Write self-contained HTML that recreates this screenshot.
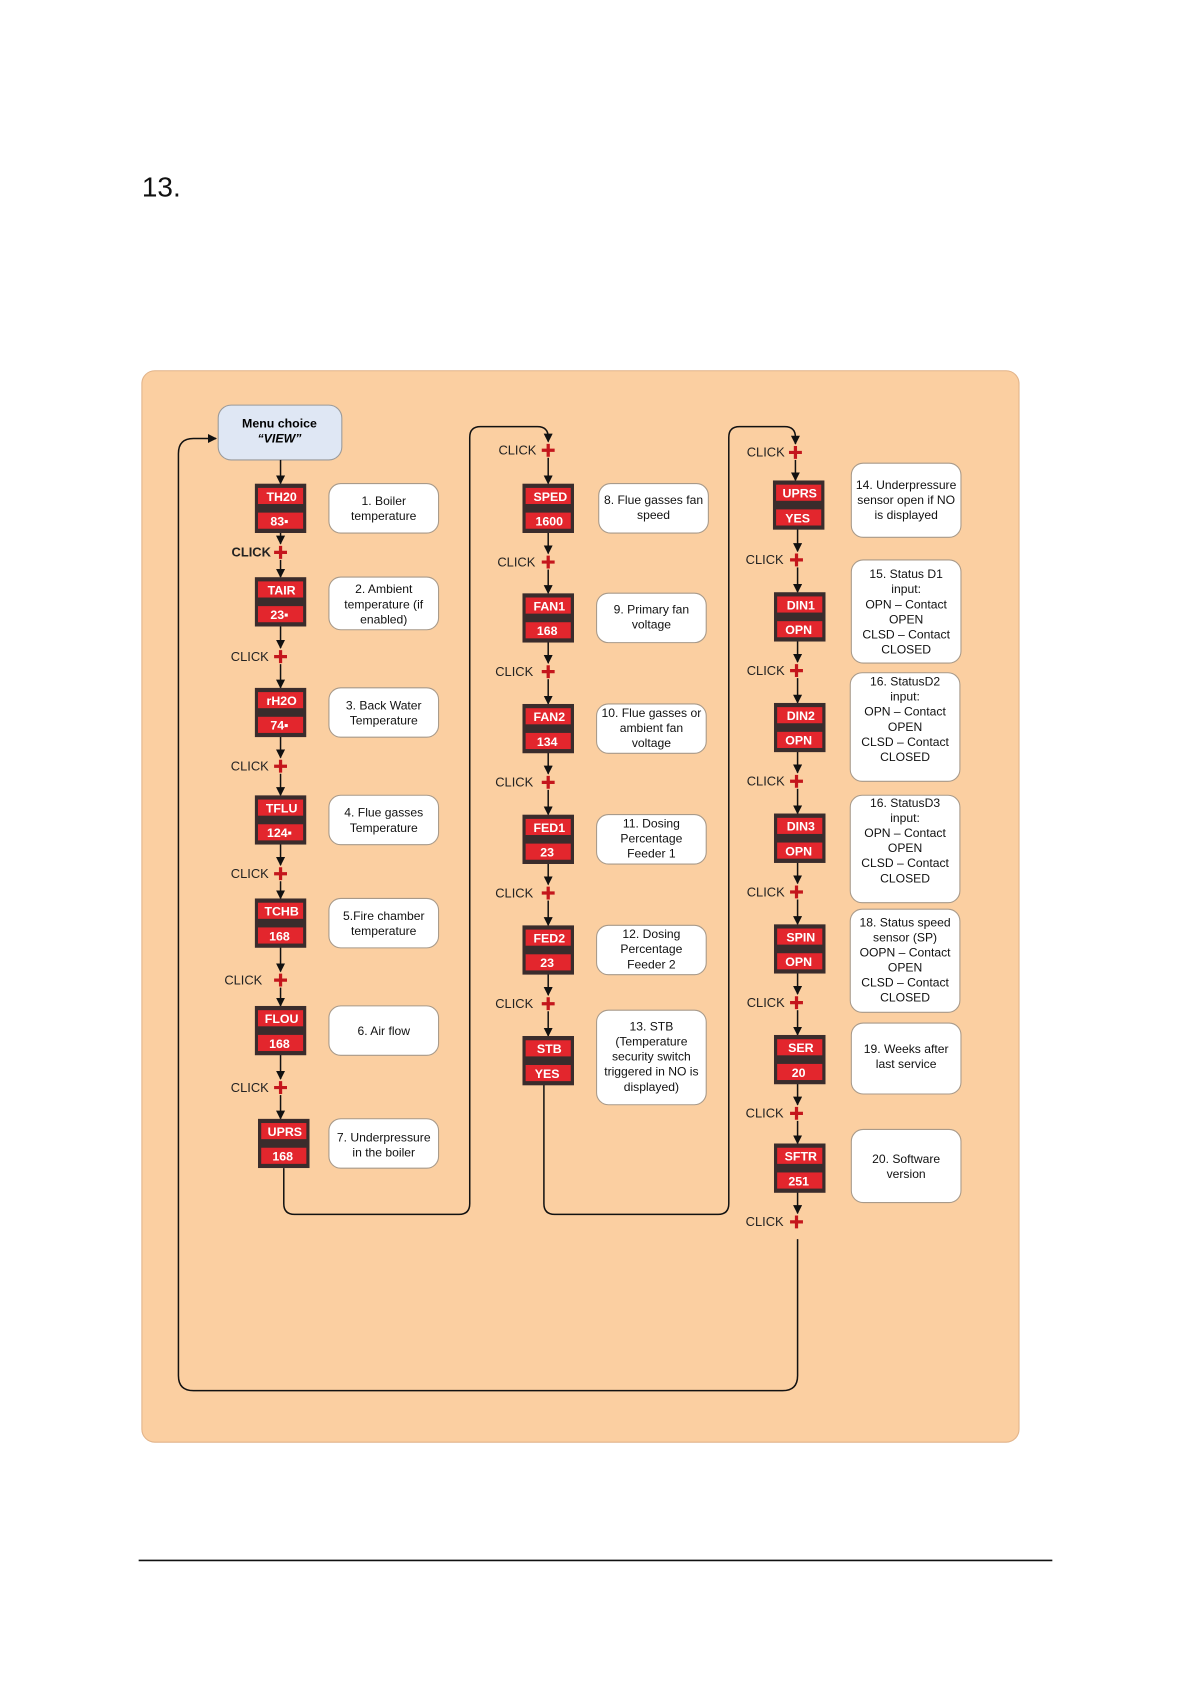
<!DOCTYPE html>
<html><head><meta charset="utf-8"><style>
html,body{margin:0;padding:0;background:#fff;}
svg{display:block;font-family:"Liberation Sans",Arial,sans-serif;}
.dt{fill:#fff;font-weight:bold;font-size:11.5px;text-anchor:middle;}
.ck{font-size:12px;text-anchor:end;fill:#222;}
.ds{font-size:11.3px;text-anchor:middle;fill:#111;}
.ln{stroke:#111;stroke-width:1.4;fill:none;}
.bx{fill:#fff;stroke:#a89a8a;stroke-width:1;}
.pl{stroke:#c4161c;stroke-width:3;}
</style></head><body>
<svg width="1191" height="1684" viewBox="0 0 1108 1567" preserveAspectRatio="none" xmlns="http://www.w3.org/2000/svg">
<defs>
<marker id="a" viewBox="0 0 10 10" refX="9" refY="5" markerWidth="6" markerHeight="6" orient="auto-start-reverse"><path d="M0 0L10 5L0 10z" fill="#111"/></marker>
<symbol id="d" viewBox="0 0 48 46" width="48" height="46"><rect x="0" y="0" width="48" height="46" fill="#3a2c2c"/><rect x="3" y="4" width="42" height="15" fill="#e3262d"/><rect x="3" y="27" width="42" height="15" fill="#e3262d"/></symbol>
</defs>
<text x="132" y="183" font-size="26" fill="#111">13.</text>
<rect x="132" y="345" width="816" height="997" rx="12" fill="#fbcfa1" stroke="#e2b48a"/>
<line x1="129" y1="1452" x2="979" y2="1452" stroke="#111" stroke-width="1.5"/>

<rect x="203" y="377" width="115" height="51" rx="12" fill="#dfe7f4" stroke="#9a9a9a"/>
<text x="260" y="398" font-size="11.5" font-weight="bold" text-anchor="middle">Menu choice</text>
<text x="260" y="412" font-size="11.5" font-weight="bold" font-style="italic" text-anchor="middle">“VIEW”</text>

<g class="ln" marker-end="url(#a)">
<line x1="261" y1="428" x2="261" y2="450"/>
<line x1="261" y1="495" x2="261" y2="506"/><line x1="261" y1="521" x2="261" y2="537"/>
<line x1="261" y1="582" x2="261" y2="603"/><line x1="261" y1="618" x2="261" y2="640"/>
<line x1="261" y1="685" x2="261" y2="705"/><line x1="261" y1="720" x2="261" y2="740"/>
<line x1="261" y1="785" x2="261" y2="805"/><line x1="261" y1="820" x2="261" y2="836"/>
<line x1="261" y1="881" x2="261" y2="904"/><line x1="261" y1="919" x2="261" y2="936"/>
<line x1="261" y1="981" x2="261" y2="1004"/><line x1="261" y1="1019" x2="261" y2="1041"/>
<path d="M264 1087V1120Q264 1130 274 1130H427Q437 1130 437 1120V407Q437 397 447 397H500Q510 397 510 407V411"/>
<line x1="510" y1="426" x2="510" y2="450"/>
<line x1="510" y1="495" x2="510" y2="515"/><line x1="510" y1="530" x2="510" y2="552"/>
<line x1="510" y1="597" x2="510" y2="617"/><line x1="510" y1="632" x2="510" y2="655"/>
<line x1="510" y1="700" x2="510" y2="720"/><line x1="510" y1="735" x2="510" y2="758"/>
<line x1="510" y1="803" x2="510" y2="823"/><line x1="510" y1="838" x2="510" y2="861"/>
<line x1="510" y1="906" x2="510" y2="926"/><line x1="510" y1="941" x2="510" y2="964"/>
<path d="M506 1009V1120Q506 1130 516 1130H668Q678 1130 678 1120V407Q678 397 688 397H730Q740 397 740 407V413"/>
<line x1="740" y1="428" x2="740" y2="447"/>
<line x1="742" y1="492" x2="742" y2="513"/><line x1="742" y1="528" x2="742" y2="551"/>
<line x1="742" y1="596" x2="742" y2="616"/><line x1="742" y1="631" x2="742" y2="654"/>
<line x1="742" y1="699" x2="742" y2="719"/><line x1="742" y1="734" x2="742" y2="757"/>
<line x1="742" y1="802" x2="742" y2="822"/><line x1="742" y1="837" x2="742" y2="860"/>
<line x1="742" y1="905" x2="742" y2="925"/><line x1="742" y1="940" x2="742" y2="963"/>
<line x1="742" y1="1008" x2="742" y2="1028"/><line x1="742" y1="1043" x2="742" y2="1064"/>
<line x1="742" y1="1109" x2="742" y2="1129"/>
<path d="M742 1153V1280Q742 1294 728 1294H180Q166 1294 166 1280V422Q166 408 180 408H201"/>
</g>

<g class="pl">
<path d="M255 514h12M261 508v12"/><path d="M255 611h12M261 605v12"/><path d="M255 713h12M261 707v12"/><path d="M255 813h12M261 807v12"/><path d="M255 912h12M261 906v12"/><path d="M255 1012h12M261 1006v12"/>
<path d="M504 419h12M510 413v12"/><path d="M504 523h12M510 517v12"/><path d="M504 625h12M510 619v12"/><path d="M504 728h12M510 722v12"/><path d="M504 831h12M510 825v12"/><path d="M504 934h12M510 928v12"/>
<path d="M734 421h12M740 415v12"/><path d="M735 521h12M741 515v12"/><path d="M735 624h12M741 618v12"/><path d="M735 727h12M741 721v12"/><path d="M735 830h12M741 824v12"/><path d="M735 933h12M741 927v12"/><path d="M735 1036h12M741 1030v12"/><path d="M735 1137h12M741 1131v12"/>
</g>
<g class="ck">
<text x="252" y="518" font-weight="bold">CLICK</text><text x="250" y="615">CLICK</text><text x="250" y="717">CLICK</text><text x="250" y="817">CLICK</text><text x="244" y="916">CLICK</text><text x="250" y="1016">CLICK</text>
<text x="499" y="423">CLICK</text><text x="498" y="527">CLICK</text><text x="496" y="629">CLICK</text><text x="496" y="732">CLICK</text><text x="496" y="835">CLICK</text><text x="496" y="938">CLICK</text>
<text x="730" y="425">CLICK</text><text x="729" y="525">CLICK</text><text x="730" y="628">CLICK</text><text x="730" y="731">CLICK</text><text x="730" y="834">CLICK</text><text x="730" y="937">CLICK</text><text x="729" y="1040">CLICK</text><text x="729" y="1141">CLICK</text>
</g>

<g transform="translate(237,450)"><use href="#d"/><text x="25" y="16" class="dt">TH20</text><text x="23" y="39" class="dt">83▪</text></g>
<g transform="translate(237,537)"><use href="#d"/><text x="25" y="16" class="dt">TAIR</text><text x="23" y="39" class="dt">23▪</text></g>
<g transform="translate(237,640)"><use href="#d"/><text x="25" y="16" class="dt">rH2O</text><text x="23" y="39" class="dt">74▪</text></g>
<g transform="translate(237,740)"><use href="#d"/><text x="25" y="16" class="dt">TFLU</text><text x="23" y="39" class="dt">124▪</text></g>
<g transform="translate(237,836)"><use href="#d"/><text x="25" y="16" class="dt">TCHB</text><text x="23" y="39" class="dt">168</text></g>
<g transform="translate(237,936)"><use href="#d"/><text x="25" y="16" class="dt">FLOU</text><text x="23" y="39" class="dt">168</text></g>
<g transform="translate(240,1041)"><use href="#d"/><text x="25" y="16" class="dt">UPRS</text><text x="23" y="39" class="dt">168</text></g>

<g transform="translate(486,450)"><use href="#d"/><text x="26" y="16" class="dt">SPED</text><text x="25" y="39" class="dt">1600</text></g>
<g transform="translate(486,552)"><use href="#d"/><text x="25" y="16" class="dt">FAN1</text><text x="23" y="39" class="dt">168</text></g>
<g transform="translate(486,655)"><use href="#d"/><text x="25" y="16" class="dt">FAN2</text><text x="23" y="39" class="dt">134</text></g>
<g transform="translate(486,758)"><use href="#d"/><text x="25" y="16" class="dt">FED1</text><text x="23" y="39" class="dt">23</text></g>
<g transform="translate(486,861)"><use href="#d"/><text x="25" y="16" class="dt">FED2</text><text x="23" y="39" class="dt">23</text></g>
<g transform="translate(486,964)"><use href="#d"/><text x="25" y="16" class="dt">STB</text><text x="23" y="39" class="dt">YES</text></g>

<g transform="translate(719,447)"><use href="#d"/><text x="25" y="16" class="dt">UPRS</text><text x="23" y="39" class="dt">YES</text></g>
<g transform="translate(720,551)"><use href="#d"/><text x="25" y="16" class="dt">DIN1</text><text x="23" y="39" class="dt">OPN</text></g>
<g transform="translate(720,654)"><use href="#d"/><text x="25" y="16" class="dt">DIN2</text><text x="23" y="39" class="dt">OPN</text></g>
<g transform="translate(720,757)"><use href="#d"/><text x="25" y="16" class="dt">DIN3</text><text x="23" y="39" class="dt">OPN</text></g>
<g transform="translate(720,860)"><use href="#d"/><text x="25" y="16" class="dt">SPIN</text><text x="23" y="39" class="dt">OPN</text></g>
<g transform="translate(720,963)"><use href="#d"/><text x="25" y="16" class="dt">SER</text><text x="23" y="39" class="dt">20</text></g>
<g transform="translate(720,1064)"><use href="#d"/><text x="25" y="16" class="dt">SFTR</text><text x="23" y="39" class="dt">251</text></g>

<g class="bx">
<rect x="306" y="450" width="102" height="46" rx="11"/><rect x="306" y="537" width="102" height="49" rx="11"/><rect x="306" y="640" width="102" height="46" rx="11"/><rect x="306" y="740" width="102" height="46" rx="11"/><rect x="306" y="836" width="102" height="46" rx="11"/><rect x="306" y="936" width="102" height="46" rx="11"/><rect x="306" y="1041" width="102" height="46" rx="11"/>
<rect x="557" y="450" width="102" height="46" rx="11"/><rect x="555" y="552" width="102" height="46" rx="11"/><rect x="555" y="655" width="102" height="46" rx="11"/><rect x="555" y="758" width="102" height="46" rx="11"/><rect x="555" y="861" width="102" height="46" rx="11"/><rect x="555" y="940" width="102" height="88" rx="11"/>
<rect x="792" y="431" width="102" height="69" rx="11"/><rect x="792" y="521" width="102" height="96" rx="11"/><rect x="791" y="626" width="102" height="101" rx="11"/><rect x="791" y="740" width="102" height="100" rx="11"/><rect x="791" y="846" width="102" height="96" rx="11"/><rect x="792" y="952" width="102" height="66" rx="11"/><rect x="792" y="1051" width="102" height="68" rx="11"/>
</g>
<g class="ds">
<text x="357" y="470">1. Boiler</text><text x="357" y="484">temperature</text>
<text x="357" y="552">2. Ambient</text><text x="357" y="566">temperature (if</text><text x="357" y="580">enabled)</text>
<text x="357" y="660">3. Back Water</text><text x="357" y="674">Temperature</text>
<text x="357" y="760">4. Flue gasses</text><text x="357" y="774">Temperature</text>
<text x="357" y="856">5.Fire chamber</text><text x="357" y="870">temperature</text>
<text x="357" y="963">6. Air flow</text>
<text x="357" y="1062">7. Underpressure</text><text x="357" y="1076">in the boiler</text>
<text x="608" y="469">8. Flue gasses fan</text><text x="608" y="483">speed</text>
<text x="606" y="571">9. Primary fan</text><text x="606" y="585">voltage</text>
<text x="606" y="667">10. Flue gasses or</text><text x="606" y="681">ambient fan</text><text x="606" y="695">voltage</text>
<text x="606" y="770">11. Dosing</text><text x="606" y="784">Percentage</text><text x="606" y="798">Feeder 1</text>
<text x="606" y="873">12. Dosing</text><text x="606" y="887">Percentage</text><text x="606" y="901">Feeder 2</text>
<text x="606" y="959">13. STB</text><text x="606" y="973">(Temperature</text><text x="606" y="987">security switch</text><text x="606" y="1001">triggered in NO is</text><text x="606" y="1015">displayed)</text>
<text x="843" y="455">14. Underpressure</text><text x="843" y="469">sensor open if NO</text><text x="843" y="483">is displayed</text>
<text x="843" y="538">15. Status D1</text><text x="843" y="552">input:</text><text x="843" y="566">OPN – Contact</text><text x="843" y="580">OPEN</text><text x="843" y="594">CLSD – Contact</text><text x="843" y="608">CLOSED</text>
<text x="842" y="638">16. StatusD2</text><text x="842" y="652">input:</text><text x="842" y="666">OPN – Contact</text><text x="842" y="680">OPEN</text><text x="842" y="694">CLSD – Contact</text><text x="842" y="708">CLOSED</text>
<text x="842" y="751">16. StatusD3</text><text x="842" y="765">input:</text><text x="842" y="779">OPN – Contact</text><text x="842" y="793">OPEN</text><text x="842" y="807">CLSD – Contact</text><text x="842" y="821">CLOSED</text>
<text x="842" y="862">18. Status speed</text><text x="842" y="876">sensor (SP)</text><text x="842" y="890">OOPN – Contact</text><text x="842" y="904">OPEN</text><text x="842" y="918">CLSD – Contact</text><text x="842" y="932">CLOSED</text>
<text x="843" y="980">19. Weeks after</text><text x="843" y="994">last service</text>
<text x="843" y="1082">20. Software</text><text x="843" y="1096">version</text>
</g>
</svg>
</body></html>
